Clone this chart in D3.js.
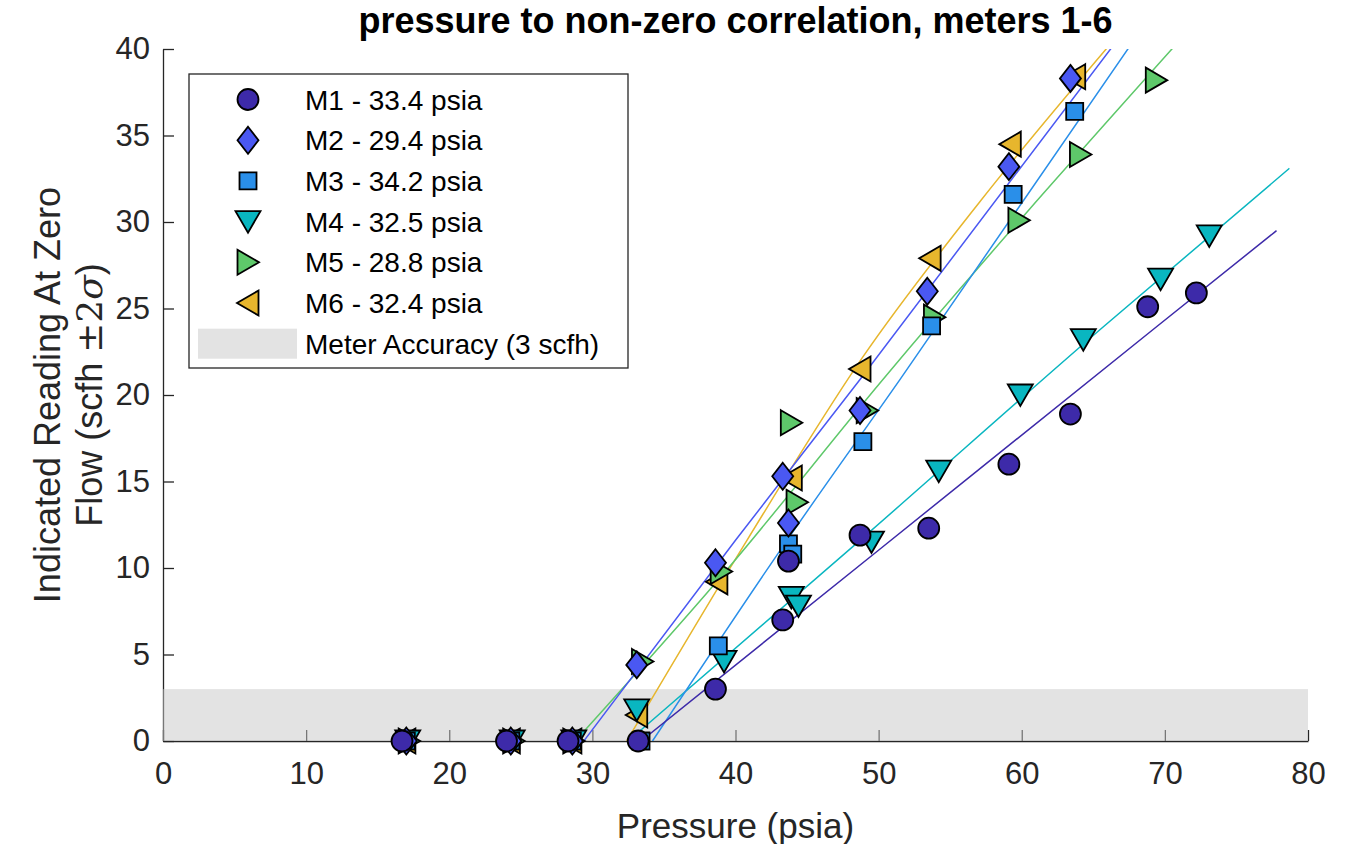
<!DOCTYPE html>
<meta charset="utf-8">
<script src="https://d3js.org/d3.v7.min.js"></script>
<style>
  body { margin: 0; background: #fff; }
  text { font-family: "Liberation Sans", Arial, sans-serif; fill: #262626; }
</style>
<svg id="chart" width="1352" height="844"></svg>
<script>
// meter names (legend)
var meterNames = ["M1 - 33.4 psia", "M2 - 29.4 psia", "M3 - 34.2 psia",
                  "M4 - 32.5 psia", "M5 - 28.8 psia", "M6 - 32.4 psia"];
var accuracyLabel = "Meter Accuracy (3 scfh)";
var accuracyLimit = 3;

// measured points, pressure (psia) and indicated reading (scfh)
var m1Pressure = [16.7, 24.0, 28.3, 33.2, 38.6, 43.3, 43.7, 48.7, 53.5, 59.1, 63.4, 68.8, 72.2];
var m1Reading  = [0, 0, 0, 0, 3.0, 7.0, 10.4, 11.9, 12.3, 16.0, 18.9, 25.1, 25.9];
var m2Pressure = [17.0, 24.3, 28.6, 33.1, 38.6, 43.3, 43.7, 48.7, 53.4, 59.1, 63.4];
var m2Reading  = [0, 0, 0, 4.4, 10.3, 15.3, 12.6, 19.1, 26.0, 33.2, 38.3];
var m3Pressure = [17.0, 24.3, 28.6, 33.4, 38.8, 43.7, 44.0, 48.9, 53.7, 59.4, 63.7];
var m3Reading  = [0, 0, 0, 0, 5.5, 11.4, 10.8, 17.3, 24.0, 31.6, 36.4];
var m4Pressure = [17.1, 24.4, 28.7, 33.1, 39.2, 43.9, 44.4, 49.5, 54.2, 59.9, 64.3, 69.7, 73.1];
var m4Reading  = [0, 0, 0, 1.8, 4.6, 8.3, 7.8, 11.5, 15.6, 20.0, 23.2, 26.7, 29.2];
var m5Pressure = [17.2, 24.5, 28.7, 33.5, 39.0, 43.9, 44.3, 49.2, 53.9, 59.8, 64.1, 69.4];
var m5Reading  = [0, 0, 0, 4.6, 9.8, 18.4, 13.8, 19.1, 24.5, 30.1, 33.9, 38.2];
var m6Pressure = [16.9, 24.2, 28.5, 33.1, 38.7, 43.9, 48.7, 53.6, 59.2, 63.7];
var m6Reading  = [0, 0, 0, 1.5, 9.2, 15.2, 21.5, 27.9, 34.5, 38.4];

// fitted correlation curves
var m1FitP = [33.4, 50.1, 69.2, 77.8], m1FitR = [0, 11.1, 23.8, 29.5];
var m2FitP = [29.4, 40.0, 48.7, 66.3], m2FitR = [0, 11.6, 20.9, 40.1];
var m3FitP = [34.2, 43.6, 51.5, 67.5], m3FitR = [0, 11.6, 20.9, 40.1];
var m4FitP = [32.5, 48.7, 65.5, 78.7], m4FitR = [0, 11.6, 23.8, 33.1];
var m5FitP = [28.8, 39.4, 50.3, 70.6], m5FitR = [0, 9.9, 20.9, 40.1];
var m6FitP = [32.4, 40.8, 48.9, 57.1, 66.0], m6FitR = [0, 11.6, 22.2, 31.2, 40.1];

var xTicks = [0, 10, 20, 30, 40, 50, 60, 70, 80];
var yTicks = [0, 5, 10, 15, 20, 25, 30, 35, 40];

var colors = ["#3d2aa9", "#4a58f2", "#2a8fe9", "#09b6c0", "#5ec86a", "#e7b62d"];
var shapes = ["circle", "diamond", "square", "down", "right", "left"];

var meters = [
  {p: m1Pressure, r: m1Reading, fp: m1FitP, fr: m1FitR},
  {p: m2Pressure, r: m2Reading, fp: m2FitP, fr: m2FitR},
  {p: m3Pressure, r: m3Reading, fp: m3FitP, fr: m3FitR},
  {p: m4Pressure, r: m4Reading, fp: m4FitP, fr: m4FitR},
  {p: m5Pressure, r: m5Reading, fp: m5FitP, fr: m5FitR},
  {p: m6Pressure, r: m6Reading, fp: m6FitP, fr: m6FitR}
];

var svg = d3.select("#chart"),
    margin = {top: 49, right: 44, bottom: 103, left: 163},
    width = 1352 - margin.left - margin.right,
    height = 844 - margin.top - margin.bottom;

var g = svg.append("g").attr("transform", "translate(" + margin.left + "," + margin.top + ")");

var x = d3.scaleLinear().domain([0, 80]).range([0, width]);
var y = d3.scaleLinear().domain([0, 40]).range([height, 0]);

// marker path generator
function marker(shape) {
  switch (shape) {
    case "circle":  return "M10.5,0A10.5,10.5 0 1,1 -10.5,0A10.5,10.5 0 1,1 10.5,0Z";
    case "diamond": return "M0,-13.5L10.5,0L0,13.5L-10.5,0Z";
    case "square":  return "M-8.5,-8.5H8.5V8.5H-8.5Z";
    case "down":    return "M-12.5,-10.5L12.5,-10.5L0,11Z";
    case "right":   return "M-10.5,-12.5L11,0L-10.5,12.5Z";
    case "left":    return "M10.5,-12.5L-11,0L10.5,12.5Z";
  }
}

// axes (ticks inward, like MATLAB)
var yAxis = g.append("g")
  .call(d3.axisLeft(y).tickValues(yTicks).tickSize(-11).tickSizeOuter(0).tickPadding(13));
var xAxis = g.append("g").attr("transform", "translate(0," + height + ")")
  .call(d3.axisBottom(x).tickValues(xTicks).tickSize(-11).tickSizeOuter(0).tickPadding(21));
[xAxis, yAxis].forEach(function(a) {
  a.select(".domain").attr("stroke", "#262626").attr("stroke-width", 1.3);
  a.selectAll(".tick line").attr("stroke", "#262626").attr("stroke-width", 1.3);
  a.selectAll(".tick text").attr("font-size", 31).attr("fill", "#262626")
    .style("font-family", "'Liberation Sans', Arial, sans-serif");
});

// accuracy band (semi transparent, over the axes)
g.append("rect")
  .attr("x", x(0)).attr("y", y(accuracyLimit))
  .attr("width", x(80) - x(0)).attr("height", y(0) - y(accuracyLimit))
  .attr("fill", "#c7c7c7").attr("fill-opacity", 0.5);

g.append("clipPath").attr("id", "plotClip")
  .append("rect").attr("x", 0).attr("y", 0).attr("width", width).attr("height", height);

var line = d3.line().x(function(d) { return x(d[0]); }).y(function(d) { return y(d[1]); })
  .curve(d3.curveMonotoneX);

// fits and markers, M6 first so M1 ends on top
for (var i = meters.length - 1; i >= 0; i--) {
  var m = meters[i];
  var fitPts = m.fp.map(function(v, k) { return [v, m.fr[k]]; });
  g.append("path")
    .attr("clip-path", "url(#plotClip)")
    .attr("d", line(fitPts))
    .attr("fill", "none")
    .attr("stroke", colors[i])
    .attr("stroke-width", 1.5);
}
for (var i = meters.length - 1; i >= 0; i--) {
  var m = meters[i];
  var pts = m.p.map(function(v, k) { return [v, m.r[k]]; });
  g.append("g").selectAll("path")
    .data(pts)
    .enter()
    .append("path")
      .attr("d", marker(shapes[i]))
      .attr("transform", function(d) { return "translate(" + x(d[0]) + "," + y(d[1]) + ")"; })
      .attr("fill", colors[i])
      .attr("stroke", "#000")
      .attr("stroke-width", 1.8)
      .attr("stroke-linejoin", "miter");
}

// title and labels
svg.append("text")
  .attr("x", margin.left + width / 2).attr("y", 33)
  .attr("text-anchor", "middle")
  .attr("font-size", 36).attr("font-weight", "bold").style("fill", "#000")
  .text("pressure to non-zero correlation, meters 1-6");

svg.append("text")
  .attr("x", margin.left + width / 2).attr("y", 838)
  .attr("text-anchor", "middle")
  .attr("font-size", 35)
  .text("Pressure (psia)");

var yl = svg.append("text")
  .attr("transform", "translate(60," + (margin.top + height / 2) + ") rotate(-90)")
  .attr("text-anchor", "middle")
  .attr("font-size", 36);
yl.append("tspan").attr("x", 0).attr("y", 0).text("Indicated Reading At Zero");
var l2 = yl.append("tspan").attr("x", 0).attr("y", 42);
l2.append("tspan").text("Flow (scfh ");
l2.append("tspan").style("font-family", "'DejaVu Serif', serif").text("\u00B12");
l2.append("tspan").style("font-family", "'DejaVu Serif', serif").style("font-style", "italic").text("\u03C3");
l2.append("tspan").text(")");

// legend
var leg = svg.append("g").attr("transform", "translate(189,74)");
leg.append("rect").attr("width", 439).attr("height", 294)
  .attr("fill", "#fff").attr("stroke", "#262626").attr("stroke-width", 1.3);
var rowH = 40.7;
meterNames.forEach(function(name, i) {
  var cy = 25.5 + i * rowH;
  leg.append("path")
    .attr("d", marker(shapes[i]))
    .attr("transform", "translate(59," + cy + ")")
    .attr("fill", colors[i]).attr("stroke", "#000").attr("stroke-width", 1.8);
  leg.append("text").attr("x", 116).attr("y", cy).attr("dy", "0.36em")
    .attr("font-size", 28).style("fill", "#000").text(name);
});
var accY = 25.5 + 6 * rowH;
leg.append("rect").attr("x", 9).attr("y", accY - 15).attr("width", 99).attr("height", 30)
  .attr("fill", "#c7c7c7").attr("fill-opacity", 0.5);
leg.append("text").attr("x", 116).attr("y", accY).attr("dy", "0.36em")
  .attr("font-size", 28).style("fill", "#000").text(accuracyLabel);
</script>
